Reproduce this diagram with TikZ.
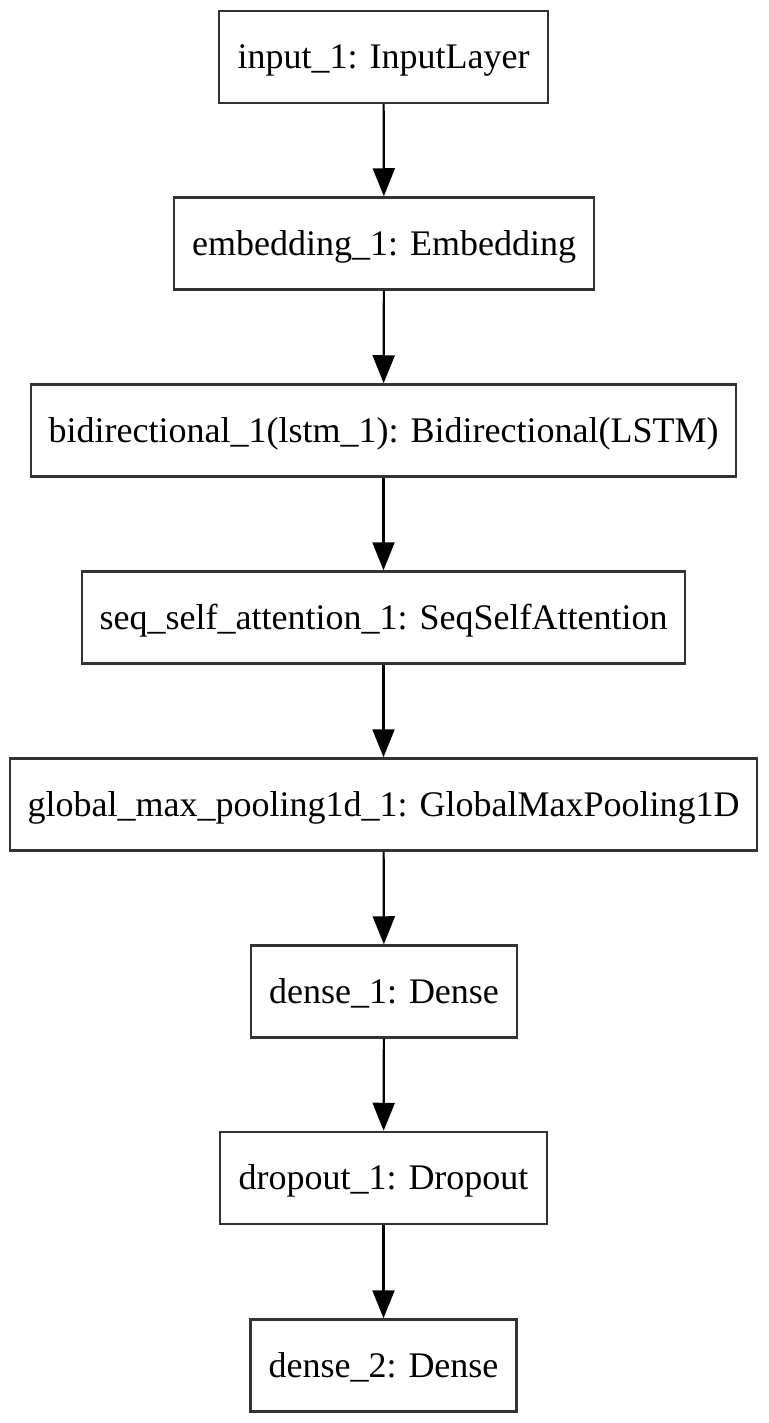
\documentclass[tikz,border=0pt]{standalone}
\usepackage{fontspec}
\setmainfont{Liberation Serif}
\usetikzlibrary{arrows.meta}
\begin{document}
\begin{tikzpicture}[x=1pt,y=-1pt,
  layer/.style={draw=black!80, line width=2.5pt, minimum height=92pt, inner sep=0pt,
    text height=25pt, text depth=2pt, font=\fontsize{36}{42}\selectfont, text=black},
  flow/.style={-{Triangle[length=28pt,width=22pt]}, line width=2.2pt, draw=black}]
\useasboundingbox (0,0) rectangle (768,1423);
\node[layer, minimum width=329pt] (n1) at (383.5,57) {input\_1: InputLayer};
\node[layer, minimum width=420pt] (n2) at (384,243.5) {embedding\_1: Embedding};
\node[layer, minimum width=705pt] (n3) at (383.5,430.5) {bidirectional\_1(lstm\_1): Bidirectional(LSTM)};
\node[layer, minimum width=603pt] (n4) at (383.5,617.5) {seq\_self\_attention\_1: SeqSelfAttention};
\node[layer, minimum width=747pt] (n5) at (383.5,804.5) {global\_max\_pooling1d\_1: GlobalMaxPooling1D};
\node[layer, minimum width=266pt] (n6) at (384,991.5) {dense\_1: Dense};
\node[layer, minimum width=327pt] (n7) at (383.5,1178) {dropout\_1: Dropout};
\node[layer, minimum width=266pt] (n8) at (383.5,1365.5) {dense\_2: Dense};
\draw[flow] (n1) -- (n2);
\draw[flow] (n2) -- (n3);
\draw[flow] (n3) -- (n4);
\draw[flow] (n4) -- (n5);
\draw[flow] (n5) -- (n6);
\draw[flow] (n6) -- (n7);
\draw[flow] (n7) -- (n8);
\end{tikzpicture}
\end{document}
